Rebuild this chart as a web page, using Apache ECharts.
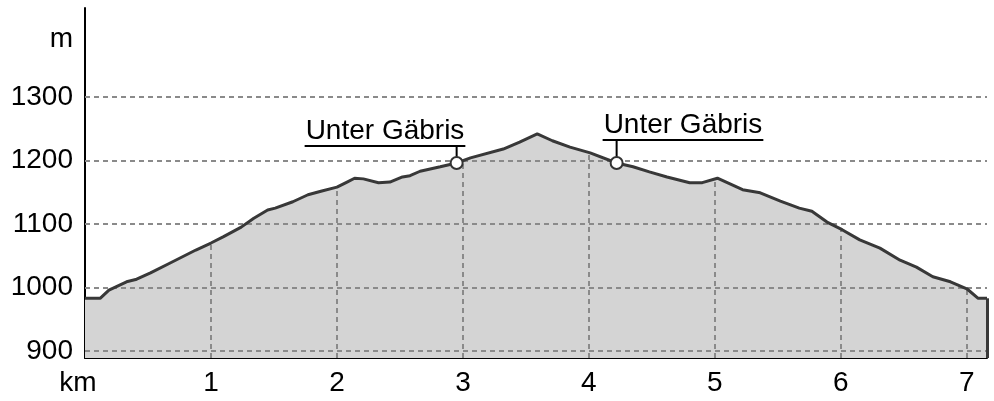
<!DOCTYPE html>
<html>
<head>
<meta charset="utf-8">
<script src="https://cdn.jsdelivr.net/npm/echarts@6/dist/echarts.min.js"></script>
<style>
    html, body { margin: 0; padding: 0; background: #fff; }
    #chart { width: 994px; height: 401px; }
</style>
</head>
<body>
<div id="chart"></div>
<script>
// Höhenprofil: Distanz (km) und Höhe (m)
var distKm = [0, 0.12, 0.19, 0.33, 0.41, 0.52, 0.68, 0.88, 1.00, 1.10, 1.24, 1.34, 1.45, 1.51, 1.65, 1.77,
    1.88, 2.00, 2.08, 2.14, 2.21, 2.33, 2.42, 2.52, 2.58, 2.66, 2.82, 2.95, 3.06, 3.32, 3.45, 3.59,
    3.71, 3.85, 4.01, 4.22, 4.35, 4.48, 4.62, 4.80, 4.90, 5.02, 5.12, 5.22, 5.36, 5.52, 5.67, 5.77,
    5.89, 6.01, 6.15, 6.31, 6.47, 6.60, 6.73, 6.87, 7.00, 7.09, 7.16];
var elevM = [983, 983, 996, 1009, 1013, 1023, 1039, 1059, 1070, 1080, 1095, 1109, 1122, 1125, 1135, 1146,
    1152, 1158, 1166, 1172, 1171, 1165, 1166, 1174, 1176, 1183, 1190, 1196, 1204, 1218, 1229, 1242,
    1231, 1221, 1212, 1196, 1190, 1182, 1174, 1165, 1165, 1172, 1163, 1154, 1149, 1136, 1125, 1120,
    1103, 1091, 1075, 1062, 1043, 1032, 1017, 1009, 998, 983, 983];

var xTicks = [0, 1, 2, 3, 4, 5, 6, 7];
var yTicks = [900, 1000, 1100, 1200, 1300];
var gridLevels = [900, 1000, 1100, 1200, 1300];
var unitLevel = 1390; // Platz für "m" über der Skala

// Wegpunkte
var poiKm = [2.95, 4.22];
var poiElev = [1196, 1196];
var poiName = ['Unter Gäbris', 'Unter Gäbris'];
// Lage der Beschriftung relativ zum Punkt (px)
var poiLayout = [{dx: -152, dy: -17}, {dx: -14, dy: -23}];

var yMin = 889, yMax = 1440, xMax = 7.16;
var labelFont = '28px "Liberation Sans", Arial, sans-serif';

function elevAt(km) {
    for (var i = 1; i < distKm.length; i++) {
        if (km <= distKm[i]) {
            var t = (km - distKm[i - 1]) / (distKm[i] - distKm[i - 1]);
            return elevM[i - 1] + t * (elevM[i] - elevM[i - 1]);
        }
    }
    return elevM[elevM.length - 1];
}

var measureCtx = document.createElement('canvas').getContext('2d');
function textWidth(txt) {
    measureCtx.font = labelFont;
    return measureCtx.measureText(txt).width;
}

var profile = [];
for (var i = 0; i < distKm.length; i++) profile.push([distKm[i], elevM[i]]);

var poiData = [];
for (var p = 0; p < poiKm.length; p++) poiData.push([poiKm[p], poiElev[p]]);

var dash = {color: '#8a8a8a', width: 2, type: [5, 4]};
var markData = [];
for (var g = 0; g < gridLevels.length; g++) {
    markData.push({yAxis: gridLevels[g], lineStyle: dash});
}
for (var k = 1; k < xTicks.length; k++) {
    markData.push([{coord: [xTicks[k], yMin], lineStyle: dash}, {coord: [xTicks[k], elevAt(xTicks[k])]}]);
}

var chart = echarts.init(document.getElementById('chart'));
chart.setOption({
    animation: false,
    grid: {left: 85, right: 7, top: 8, bottom: 43},
    xAxis: {
        type: 'value', min: 0, max: xMax,
        axisLine: {show: true, onZero: false, lineStyle: {color: '#000', width: 2}},
        axisTick: {show: false},
        splitLine: {show: false},
        axisLabel: {
            customValues: xTicks, margin: 11, color: '#000', fontSize: 28,
            fontFamily: 'Liberation Sans',
            formatter: function (v) { return v === 0 ? '{k|km}' : String(v); },
            rich: {k: {fontSize: 28, fontFamily: 'Liberation Sans', color: '#000', padding: [0, 14, 0, 0]}}
        }
    },
    yAxis: {
        type: 'value', min: yMin, max: yMax,
        axisLine: {show: true, onZero: false, lineStyle: {color: '#000', width: 2}},
        axisTick: {show: false},
        splitLine: {show: false},
        axisLabel: {
            customValues: yTicks.concat([unitLevel]), margin: 12, color: '#000', fontSize: 28,
            fontFamily: 'Liberation Sans',
            formatter: function (v) { return v === unitLevel ? 'm' : String(v); }
        }
    },
    series: [
        {
            // Fläche + Raster
            type: 'line', data: profile, z: 2, showSymbol: false, silent: true,
            lineStyle: {width: 0},
            areaStyle: {color: '#d4d4d4', opacity: 1, origin: 'start'},
            markLine: {
                z: 3, silent: true, symbol: 'none', label: {show: false},
                data: markData
            }
        },
        {
            type: 'line', data: profile, z: 4, showSymbol: false, silent: true,
            lineStyle: {color: '#383838', width: 3},
            markLine: {
                z: 4, silent: true, symbol: 'none', label: {show: false},
                data: [[{coord: [xMax, yMin], lineStyle: {color: '#383838', width: 3, type: 'solid'}},
                    {coord: [xMax, elevM[elevM.length - 1]]}]]
            }
        },
        {
            type: 'custom', z: 6, clip: false, silent: true,
            data: poiData,
            renderItem: function (params, api) {
                var pt = api.coord([api.value(0), api.value(1)]);
                var i = params.dataIndex;
                var w = textWidth(poiName[i]) + 2;
                var ux = pt[0] + poiLayout[i].dx;
                var uy = pt[1] + poiLayout[i].dy;
                return {
                    type: 'group',
                    children: [
                        {type: 'line', shape: {x1: pt[0], y1: uy, x2: pt[0], y2: pt[1]}, style: {stroke: '#000', lineWidth: 2}},
                        {type: 'line', shape: {x1: ux, y1: uy, x2: ux + w, y2: uy}, style: {stroke: '#000', lineWidth: 2}},
                        {type: 'text', style: {text: poiName[i], x: ux + w / 2, y: uy - 1, align: 'center', verticalAlign: 'bottom', font: labelFont, fill: '#000'}},
                        {type: 'circle', shape: {cx: pt[0], cy: pt[1], r: 6}, style: {fill: '#fff', stroke: '#333', lineWidth: 2}}
                    ]
                };
            }
        }
    ]
});
</script>
</body>
</html>
